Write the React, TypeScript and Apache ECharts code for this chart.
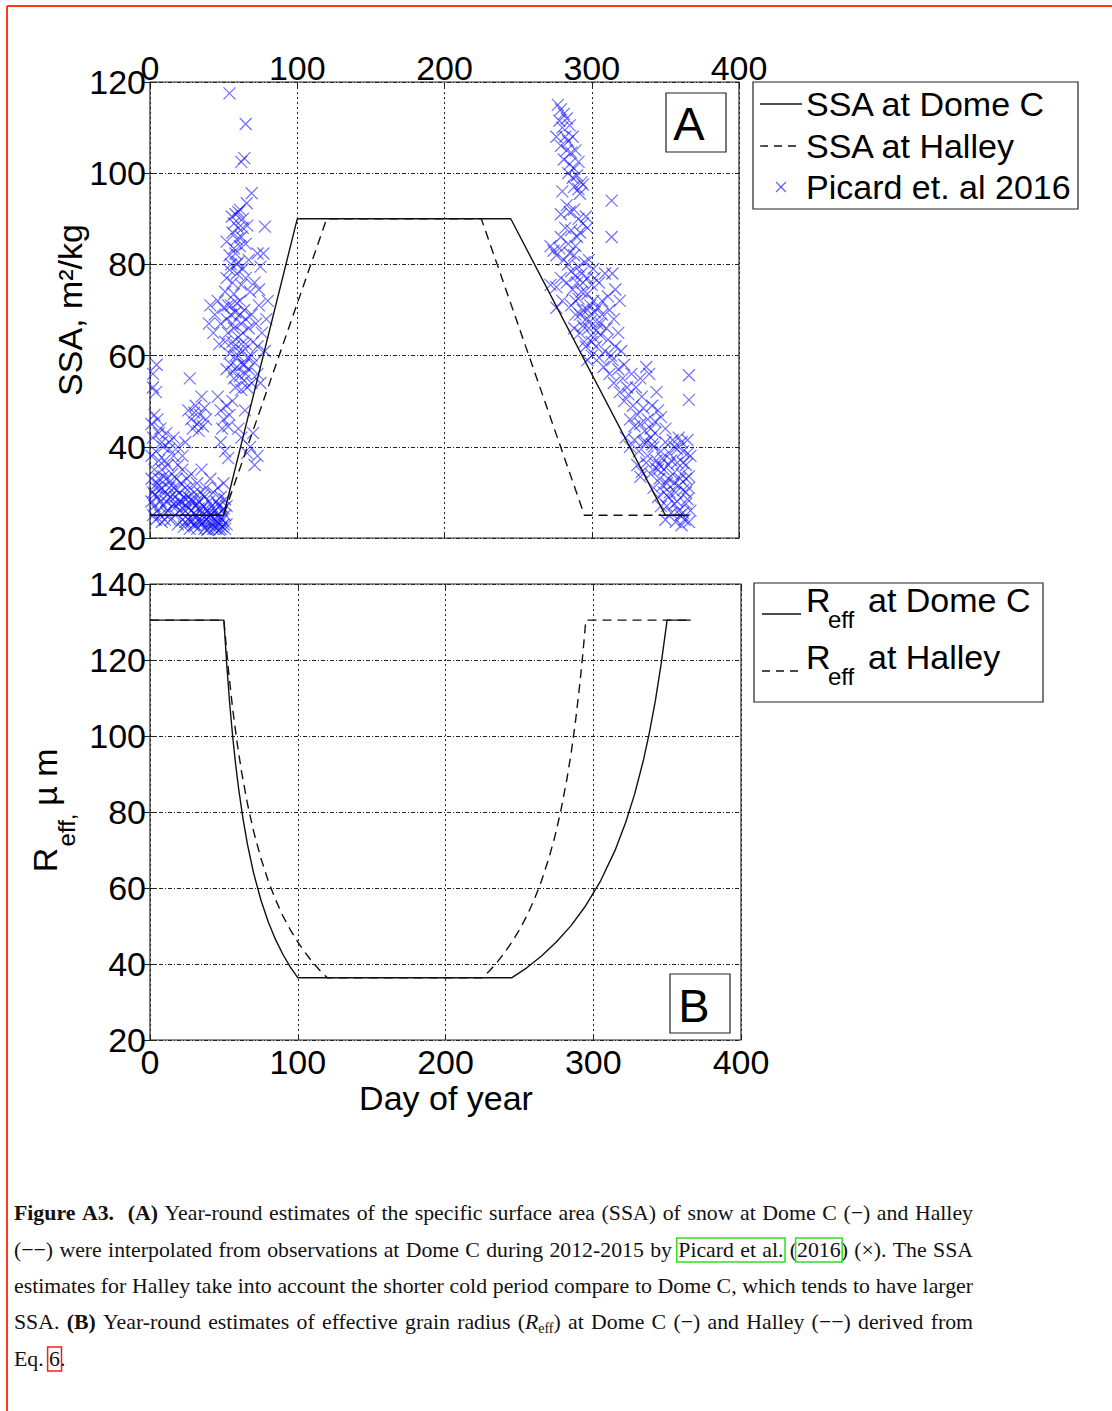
import React, { useEffect, useRef } from 'react';
import * as echarts from 'echarts';

// ---------- data ----------
const dayTicks = [0, 100, 200, 300, 400];
const ssaTicks = [20, 40, 60, 80, 100, 120];
const reffTicks = [20, 40, 60, 80, 100, 120, 140];

// SSA (m2/kg) vs day of year
const domeCSSA: number[][] = [[0, 25], [50, 25], [100, 90], [245, 90], [350, 25], [366, 25]];
const halleySSA: number[][] = [[0, 25], [50, 25], [120, 90], [225, 90], [295, 25], [366, 25]];

// Reff (µm) vs day of year
const domeCReff: number[][] = [
  [0, 130.5], [50, 130.5], [52, 118.5], [54, 108.3], [56, 99.7], [58, 92.4], [60, 86.1], [63, 78.1],
  [66, 71.4], [70, 64.1], [75, 56.9], [80, 51.1], [85, 46.4], [90, 42.5], [95, 39.2], [100, 36.4],
  [245, 36.4], [255, 39.0], [265, 42.1], [275, 45.8], [285, 50.1], [295, 55.4], [305, 61.9], [315, 70.1],
  [322, 77.3], [328, 84.7], [334, 93.7], [338, 100.9], [342, 109.2], [346, 119.1], [350, 130.5], [366, 130.5],
];
const halleyReff: number[][] = [
  [0, 130.5], [50, 130.5], [53, 117.7], [56, 107.0], [59, 98.1], [62, 90.5], [66, 82.1], [70, 75.1],
  [75, 67.9], [80, 61.9], [85, 56.9], [90, 52.6], [95, 49.0], [100, 45.8], [105, 43.0], [110, 40.5],
  [115, 38.3], [120, 36.4], [225, 36.4], [230, 38.3], [235, 40.5], [240, 43.0], [245, 45.8], [250, 49.0],
  [255, 52.6], [260, 56.9], [265, 61.9], [270, 67.9], [274, 73.5], [278, 80.2], [282, 88.3], [285, 95.4],
  [288, 103.9], [291, 114.0], [293, 121.8], [295, 130.5], [366, 130.5],
];

// Picard et al. 2016 observations [day, SSA]
const picardEarlyLow: number[][] = [
  [1, 28], [1, 33], [1, 38], [2, 25], [2, 30], [2, 42], [3, 27], [3, 35], [4, 24], [4, 31], [4, 39], [5, 29],
  [5, 26], [6, 33], [6, 37], [6, 43], [7, 28], [7, 25], [8, 31], [8, 35], [9, 27], [9, 40], [10, 30], [10, 24],
  [11, 33], [11, 28], [12, 36], [12, 26], [13, 31], [13, 41], [14, 29], [14, 24], [15, 34], [15, 27], [16, 31],
  [16, 38], [17, 25], [17, 29], [18, 33], [18, 27], [19, 23], [19, 36], [20, 30], [20, 26],
  [21, 32], [21, 28], [22, 24], [22, 35], [23, 29], [23, 22.5], [24, 31], [24, 26], [25, 27], [25, 33],
  [26, 24], [26, 29], [27, 31], [27, 22], [28, 26], [28, 34], [29, 28], [29, 24], [30, 30], [30, 23],
  [31, 27], [31, 25], [32, 32], [32, 22], [33, 28], [33, 24], [34, 30], [34, 26], [35, 23], [35, 35],
  [36, 27], [36, 25], [37, 22], [37, 29], [38, 24], [38, 31], [39, 26], [39, 23], [40, 28], [40, 22],
  [41, 25], [41, 33], [42, 23], [42, 27], [43, 30], [43, 22], [44, 24], [44, 26], [45, 28], [45, 22],
  [46, 25], [46, 31], [47, 23], [47, 27], [48, 22], [48, 29], [49, 24], [49, 26], [50, 23], [50, 32],
  [51, 22], [51, 25], [52, 27], [52, 23], [36, 23.5], [40, 24.5], [43, 25.5], [46, 23.5], [49, 22.5],
  [33, 26.5], [28, 23.5], [24, 28.5],
  [3, 29.5], [5, 32], [7, 30.5], [9, 33.5], [12, 29.5], [14, 32.5], [16, 27.5], [18, 30.5], [20, 28],
  [22, 26.5], [24, 23.5], [26, 26.5], [28, 28.5], [30, 25.5], [32, 27.5], [34, 23.5], [36, 29.5],
  [38, 26.5], [40, 25.5], [42, 24.5], [44, 22.5], [46, 27.5], [48, 24.5], [50, 26.5], [51, 28.5],
  [47, 21.8], [39, 21.8], [31, 22.8], [11, 25.5], [8, 23.5],
];
const picardEarlyMid: number[][] = [
  [4.5, 58], [2, 56], [2, 53], [4, 52], [3, 47], [5, 46], [1, 45], [7, 44], [8, 41], [11, 43], [13, 39.5],
  [10, 37], [16, 42], [19, 40], [22, 38], [24, 41], [27, 55], [35, 51], [26, 48], [28, 46], [30, 47.5],
  [32, 45], [34, 47], [36, 44.5], [29, 44], [31, 49], [33, 43.5], [38, 46], [37, 48.5], [46, 51], [48, 48],
  [50, 46], [52, 49], [54, 47], [56, 50], [49, 44], [53, 44.5], [64.5, 48], [62, 42], [66, 38.6], [71, 36],
  [68, 40], [73, 38], [48, 41], [51, 39], [53, 37.5], [60, 44], [70, 43],
];
const picardEarlyHigh: number[][] = [
  [54, 117.5], [65, 110.8], [64, 103.3], [62, 102.5], [69, 95.6], [78, 88.3], [65.7, 93.4], [61, 92],
  [55.5, 90.5], [58, 91], [63, 90], [60, 88], [56, 87], [59, 85.5], [62, 86], [57, 83.5], [58, 82.4],
  [54, 82], [73, 82.4], [66, 88.5], [52, 85], [60, 80.5], [77, 82.4],
  [54, 78.8], [75, 79.5], [52, 77], [56, 76], [59, 78], [62, 75.5], [65, 77], [68, 74], [71, 76], [51, 74],
  [57, 73.5], [74, 74.5],
  [41, 71], [44, 69], [46, 72], [48, 67], [50, 70.5], [52, 68], [53, 65], [55, 71], [56, 67], [58, 69.5],
  [60, 64], [61, 72], [62, 67], [64, 70], [65, 62.5], [67, 66], [69, 69], [70, 63], [72, 67], [74, 71],
  [76, 65], [79, 68], [80, 72], [43, 65], [47, 62.5], [51, 63], [54, 60.5], [57, 62], [60, 60], [63, 61],
  [66, 59.5], [69, 60], [73, 62], [78, 61], [40, 67],
  [52, 57], [55, 58], [57, 55], [59, 57.5], [61, 55.5], [63, 58], [65, 56], [67, 57], [69, 54], [71, 58.5],
  [73, 56], [75, 54], [58, 53], [62, 52.5], [66, 53], [56, 56.5], [64, 54.5],
  [53, 71], [55, 69], [57, 66], [59, 71.5], [61, 69], [63, 65], [65, 68], [56, 63], [58, 60], [62, 62.5],
  [64, 58], [60, 91.5], [63, 88], [57, 89], [61, 84], [65, 84.5], [59, 80], [63, 79], [67, 81], [55, 80],
];
const picardLate: number[][] = [
  [277, 115], [279, 114], [281, 113], [278, 111.5], [283, 112], [280, 110], [285, 110.5], [276, 108],
  [282, 108], [284, 107], [287, 108], [279, 106], [283, 105], [286, 104.5], [289, 105], [281, 103],
  [285, 102], [288, 101], [291, 102.5], [284, 100], [287, 99], [290, 99.5], [293, 98], [288, 97],
  [291, 96.5], [294, 97.5], [292, 95.5],
  [280, 96], [283, 93], [285, 91.5], [279, 91], [288, 92], [291, 90], [294, 89], [296, 90.5], [282, 88],
  [286, 87.5], [290, 86], [279, 86], [292, 87], [297, 88], [284, 84.5], [313.5, 94], [313.5, 86],
  [272, 84], [274, 83], [276, 82], [278, 83.5], [281, 81], [284, 80], [288, 82], [291, 79.5], [295, 80.5],
  [298, 81], [301, 79], [302, 77], [300, 75.5], [294, 76], [289, 77.5], [286, 78.5], [283, 76], [279, 77],
  [276, 75], [272, 75.5], [293, 74], [297, 73.5], [305, 76], [309, 78], [314, 78], [316, 74.5], [311, 73],
  [307, 72],
  [276, 70.5], [280, 72], [286, 71], [289, 69], [291, 72.5], [294, 70], [296, 68], [299, 71], [302, 69.5],
  [304, 67], [307, 69], [310, 66], [312, 70], [315, 68], [319, 72], [288, 66], [292, 65], [295, 63],
  [298, 66], [301, 64], [303, 62], [306, 64.5], [309, 61], [311, 63.5], [313, 60], [316, 62], [318, 65],
  [300, 60], [297, 59], [305, 59.5], [308, 57.5], [314, 59], [320, 61], [322, 58],
  [312, 56], [315, 54], [318, 57], [321, 55], [324, 53], [327, 56], [319, 52], [322, 50], [325, 51.5],
  [328, 49], [330, 53], [333, 55], [337, 57.5], [339, 56], [334, 51], [331, 47], [335, 48.5], [338, 46],
  [341, 49], [344, 52], [345, 48], [326, 46], [329, 44.5], [333, 45], [336, 43.5], [340, 44], [343, 45.5],
  [347, 46.5], [350, 44], [366, 55.7], [366, 50.3],
  [323, 42], [326, 40], [329, 41.5], [332, 39], [335, 41], [338, 38], [341, 40.5], [344, 37], [347, 39],
  [350, 41], [353, 38.5], [356, 40], [359, 42], [362, 39], [365, 41.5], [367, 38], [331, 36], [334, 34.5],
  [337, 36.5], [340, 34], [343, 35.5], [346, 33], [349, 35], [352, 36], [355, 34], [358, 36.5], [361, 34],
  [364, 36], [366, 33.5], [333, 33.4],
  [342, 31], [345, 29], [348, 31.5], [351, 27], [353, 30], [356, 32], [358, 28], [360, 25], [362, 30.5],
  [364, 27.5], [366, 31], [367, 26], [350, 24], [354, 25.5], [357, 23.5], [361, 22.8], [363, 24],
  [365, 28.5], [347, 27], [359, 31.5], [352, 33], [366, 23.5],
  [289, 72], [292, 69], [294, 66.5], [297, 70], [299, 67.5], [301, 72], [303, 65.5], [296, 62], [300, 63],
  [304, 70.5], [306, 67], [287, 74.5], [290, 76], [293, 78], [297, 77], [285, 82.5], [289, 84],
  [342, 40], [345, 35], [348, 37.5], [351, 32], [354, 37], [357, 30], [360, 33], [362, 36.5], [364, 30],
  [365, 38.5], [352, 29], [356, 27.5], [359, 26], [362, 25.5], [364, 33], [349, 30], [346, 36],
  [355, 41.5], [358, 39.5], [361, 41], [340, 42], [337, 41], [343, 43],
];

const captionLines = [
  '{b|Figure} {b|A3.} {b|(A)} Year-round estimates of the specific surface area (SSA) of snow at Dome C (\u2212) and Halley',
  '(\u2212\u2212) were interpolated from observations at Dome C during 2012-2015 by Picard et al. (2016) (\u00d7). The SSA',
  'estimates for Halley take into account the shorter cold period compare to Dome C, which tends to have larger',
  'SSA. {b|(B)} Year-round estimates of effective grain radius ({i|R}{s|eff}) at Dome C (\u2212) and Halley (\u2212\u2212) derived from',
  'Eq. 6.',
];

// ---------- styling ----------
const SANS = 'Liberation Sans, Arial, Helvetica, sans-serif';
const SERIF = 'Liberation Serif, Times New Roman, serif';
const FS = 34;
const INK = '#111';
const GRID_COLOR = '#222';
const CAP_FS = 21.8;
const SUB_FS = 14;
const CAP_LEFT = 14;
const CAP_WIDTH = 959;
const CAP_Y = [1213, 1250, 1286, 1322, 1359];

function txt(text: string, x: number, y: number, o: any = {}) {
  return {
    type: 'text', x, y, z: 100, silent: true,
    rotation: o.rotation || 0,
    style: {
      text, fill: o.fill || '#000', fontSize: o.fontSize || FS, fontFamily: o.fontFamily || SANS,
      fontWeight: o.fontWeight || 'normal',
      textAlign: o.align || 'left', textVerticalAlign: o.va || 'middle',
      rich: o.rich,
    },
  };
}
function seg(x1: number, y1: number, x2: number, y2: number, o: any = {}) {
  return {
    type: 'line', z: 100, silent: true,
    shape: { x1, y1, x2, y2 },
    style: { stroke: o.stroke || INK, lineWidth: o.lineWidth || 1.3, lineDash: o.lineDash || null },
  };
}
function box(x: number, y: number, w: number, h: number, o: any = {}) {
  return {
    type: 'rect', z: o.z || 99, silent: true,
    shape: { x, y, width: w, height: h },
    style: { fill: o.fill === undefined ? '#fff' : o.fill, stroke: o.stroke || '#222', lineWidth: o.lineWidth || 1.2 },
  };
}

// ---------- caption layout (justified, like the typeset page) ----------
function buildCaption(): any[] {
  const canvas = document.createElement('canvas');
  const ctx = canvas.getContext('2d')!;
  const pieceW = (text: string, key: string) => {
    const size = key === 's' ? SUB_FS : CAP_FS;
    const st = key === 'i' ? 'italic ' : '';
    const wt = key === 'b' ? 'bold ' : '';
    ctx.font = `${st}${wt}${size}px "Liberation Serif"`;
    return ctx.measureText(text).width;
  };
  const wordW = (word: string) => {
    let w = 0;
    const re = /\{(\w)\|([^}]*)\}|([^{]+)/g;
    let m: RegExpExecArray | null;
    while ((m = re.exec(word))) {
      w += m[3] !== undefined ? pieceW(m[3], '') : pieceW(m[2], m[1]);
    }
    return w;
  };
  const capStyle = { fontFamily: SERIF, fontSize: CAP_FS, lineHeight: 26, fill: '#111' };
  const rich = {
    b: { ...capStyle, fontWeight: 'bold' },
    i: { ...capStyle, fontStyle: 'italic' },
    s: { fontFamily: SERIF, fontSize: SUB_FS, lineHeight: 14, verticalAlign: 'bottom', fill: '#111' },
  };
  const out: any[] = [];
  const links: any[] = [];
  captionLines.forEach((line, li) => {
    const words = line.split(' ').filter(Boolean);
    const widths = words.map(wordW);
    const extra = words.map((w) => (w === '{b|A3.}' ? 7 : 0));
    const total = widths.reduce((a, b) => a + b, 0) + extra.reduce((a, b) => a + b, 0);
    const justify = li < captionLines.length - 1;
    const gap = justify ? (CAP_WIDTH - total) / (words.length - 1) : pieceW(' ', '');
    let x = CAP_LEFT;
    const y = CAP_Y[li];
    words.forEach((w, wi) => {
      out.push(txt(w, x, y, { fontFamily: SERIF, fontSize: CAP_FS, fill: '#111', rich }));
      if (li === 1 && w === 'Picard') links.push({ start: x });
      if (li === 1 && w === 'al.') links[0].end = x + widths[wi];
      if (li === 1 && w === '(2016)') {
        const a = x + pieceW('(', '');
        const b = x + pieceW('(2016', '');
        links.push({ start: a, end: b });
      }
      if (li === 4 && w === '6.') {
        links.push({ start: x, end: x + pieceW('6', ''), red: true });
      }
      x += widths[wi] + extra[wi] + gap;
    });
  });
  links.forEach((l) => {
    const y = l.red ? CAP_Y[4] - 12 : CAP_Y[1] - 12;
    out.push(box(l.start - 1.5, y, l.end - l.start + 3, 24, {
      fill: 'transparent', stroke: l.red ? '#ee2211' : '#33dd22', lineWidth: 1.5, z: 101,
    }));
  });
  return out;
}

function buildOption() {
  const label = (show: boolean, margin: number) => ({
    show, fontSize: FS, color: '#000', fontFamily: SANS, margin,
  });
  const tick = { show: true, inside: true, length: 6, lineStyle: { color: '#222', width: 1 } };
  const xBase = (grid: number, pos: string, labels: boolean, margin: number, split: boolean) => ({
    type: 'value', gridIndex: grid, position: pos, min: dayTicks[0], max: dayTicks[dayTicks.length - 1], interval: 100,
    axisLabel: label(labels, margin), axisTick: tick, axisLine: { show: false },
    splitLine: { show: split, lineStyle: { color: GRID_COLOR, width: 1, type: [2, 3] } },
  });
  const yBase = (grid: number, pos: string, labels: boolean, ticks: number[], split: boolean) => ({
    type: 'value', gridIndex: grid, position: pos, min: ticks[0], max: ticks[ticks.length - 1], interval: 20,
    axisLabel: label(labels, 4), axisTick: tick, axisLine: { show: false },
    splitLine: { show: split, lineStyle: { color: GRID_COLOR, width: 1, type: [4, 2, 1, 2] } },
  });

  const solid = { color: '#111', width: 1.4, type: 'solid' };
  const dashed = { color: '#111', width: 1.4, type: [9, 6] };

  const graphic: any[] = [
    // page border (red)
    seg(7, 6, 1112, 6, { stroke: '#ff3b1a', lineWidth: 2 }),
    seg(7, 6, 7, 1411, { stroke: '#ff3b1a', lineWidth: 2 }),
    // y axis names
    txt('SSA, m\u00b2/kg', 70, 310, { rotation: Math.PI / 2, align: 'center' }),
    txt('R', 44.5, 860, { rotation: Math.PI / 2, align: 'center' }),
    txt('eff,', 66, 830, { rotation: Math.PI / 2, align: 'center', fontSize: 24 }),
    txt('\u00b5 m', 44.5, 777, { rotation: Math.PI / 2, align: 'center' }),
    // x axis name
    txt('Day of year', 446, 1098, { align: 'center' }),
    // panel letters
    box(666, 93, 60, 59),
    txt('A', 689, 123, { align: 'center', fontSize: 47 }),
    box(670, 974, 60, 59),
    txt('B', 694, 1005, { align: 'center', fontSize: 47 }),
    // legend A
    box(753, 82, 325, 127),
    seg(760, 104, 802, 104),
    txt('SSA at Dome C', 806, 104),
    seg(760, 146, 802, 146, { lineDash: [8, 6] }),
    txt('SSA at Halley', 806, 146),
    seg(776, 182, 786, 192, { stroke: 'rgba(50,50,255,0.8)', lineWidth: 1.1 }),
    seg(786, 182, 776, 192, { stroke: 'rgba(50,50,255,0.8)', lineWidth: 1.1 }),
    txt('Picard et. al 2016', 806, 187),
    // legend B
    box(754, 583, 289, 119),
    seg(762, 614, 801, 614),
    txt('R', 806, 600),
    txt('eff', 828, 619, { fontSize: 24 }),
    txt('at Dome C', 868, 600),
    seg(762, 671, 801, 671, { lineDash: [8, 6] }),
    txt('R', 806, 657),
    txt('eff', 828, 676, { fontSize: 24 }),
    txt('at Halley', 868, 657),
    ...buildCaption(),
  ];

  const picard = [...picardEarlyLow, ...picardEarlyMid, ...picardEarlyHigh, ...picardLate];

  return {
    animation: false,
    backgroundColor: '#fff',
    grid: [
      { left: 150, top: 82, width: 589, height: 456, show: true, borderColor: '#262626', borderWidth: 1.2, outerBoundsMode: 'none' },
      { left: 150, top: 584, width: 591, height: 456, show: true, borderColor: '#262626', borderWidth: 1.2, outerBoundsMode: 'none' },
    ],
    xAxis: [
      xBase(0, 'top', true, -3, true),
      xBase(0, 'bottom', false, 0, false),
      xBase(1, 'bottom', true, 5, true),
      xBase(1, 'top', false, 0, false),
    ],
    yAxis: [
      yBase(0, 'left', true, ssaTicks, true),
      yBase(0, 'right', false, ssaTicks, false),
      yBase(1, 'left', true, reffTicks, true),
      yBase(1, 'right', false, reffTicks, false),
    ],
    series: [
      {
        name: 'Picard et. al 2016', type: 'scatter', xAxisIndex: 0, yAxisIndex: 0, data: picard,
        symbol: 'path://M0,0L10,10M10,0L0,10', symbolSize: 12,
        itemStyle: { color: 'transparent', borderColor: 'rgba(15,15,255,0.75)', borderWidth: 1.2 },
        emphasis: { disabled: true }, z: 2,
      },
      { name: 'SSA at Halley', type: 'line', xAxisIndex: 0, yAxisIndex: 0, data: halleySSA, symbol: 'none', lineStyle: dashed, z: 3 },
      { name: 'SSA at Dome C', type: 'line', xAxisIndex: 0, yAxisIndex: 0, data: domeCSSA, symbol: 'none', lineStyle: solid, z: 4 },
      { name: 'Reff at Halley', type: 'line', xAxisIndex: 2, yAxisIndex: 2, data: halleyReff, symbol: 'none', lineStyle: dashed, z: 3 },
      { name: 'Reff at Dome C', type: 'line', xAxisIndex: 2, yAxisIndex: 2, data: domeCReff, symbol: 'none', lineStyle: solid, z: 4 },
    ],
    graphic,
  };
}

export default function App() {
  const ref = useRef<HTMLDivElement>(null);
  useEffect(() => {
    const chart = echarts.init(ref.current!, null, { renderer: 'svg' });
    chart.setOption(buildOption() as any);
    return () => chart.dispose();
  }, []);
  return (
    <div
      ref={ref}
      style={{ position: 'absolute', left: 0, top: 0, width: 1112, height: 1411, background: '#fff' }}
    />
  );
}
